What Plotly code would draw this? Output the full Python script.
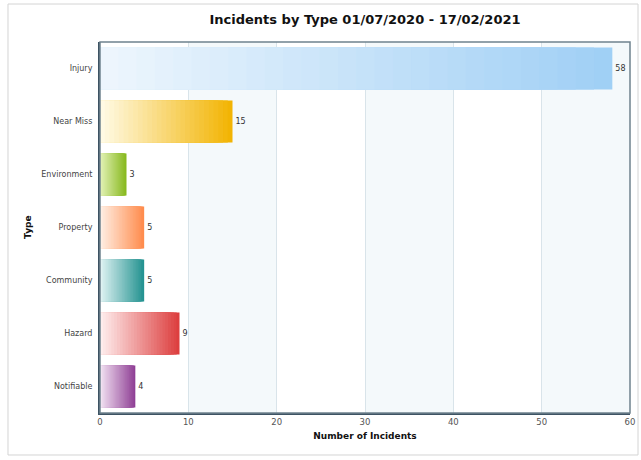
import plotly.graph_objects as go

categories = ["Injury", "Near Miss", "Environment", "Property", "Community", "Hazard", "Notifiable"]
values = [58, 15, 3, 5, 5, 9, 4]
light_colors = ["#eef6fd", "#fffbe8", "#e4f2b8", "#fff0e6", "#e2f4f4", "#fff0f0", "#f3e4f3"]
dark_colors = ["#9fcff5", "#f2b300", "#86b81c", "#ff8a4a", "#21918f", "#dc3c3c", "#8e3d94"]
x_ticks = [0, 10, 20, 30, 40, 50, 60]

def hex2rgb(h):
    h = h.lstrip("#")
    return tuple(int(h[i:i + 2], 16) for i in (0, 2, 4))

def lerp(c1, c2, f):
    a, b = hex2rgb(c1), hex2rgb(c2)
    return "rgb(%d,%d,%d)" % tuple(round(a[i] + (b[i] - a[i]) * f) for i in range(3))

N = 28
fig = go.Figure()
for k in range(N):
    frac = (N - k) / N
    f_col = (N - k - 0.5) / N
    fig.add_trace(go.Bar(
        y=categories,
        x=[v * frac for v in values],
        orientation="h",
        marker=dict(color=[lerp(l, d, f_col) for l, d in zip(light_colors, dark_colors)],
                    line=dict(width=0)),
        text=[str(v) for v in values] if k == 0 else None,
        textposition="outside" if k == 0 else "none",
        textfont=dict(family="DejaVu Sans", size=8, color="#333333"),
        cliponaxis=False,
        hoverinfo="skip",
        showlegend=False,
    ))

shapes = []
# alternating background bands
for i in range(len(x_ticks) - 1):
    if i % 2 == 1:
        shapes.append(dict(type="rect", xref="x", yref="paper", x0=x_ticks[i], x1=x_ticks[i + 1],
                           y0=0, y1=1, fillcolor="#f4f9fb", line=dict(width=0), layer="below"))
# plot border
shapes.append(dict(type="rect", xref="paper", yref="paper", x0=0, x1=1, y0=0, y1=1,
                   line=dict(color="#6f828e", width=1.5), layer="above"))
# outer frame
shapes.append(dict(type="rect", xref="paper", yref="paper", x0=-0.1736, x1=1.0151, y0=-0.1132, y1=1.1024,
                   line=dict(color="#d4d4d4", width=1), layer="below"))

fig.update_layout(
    width=641, height=460,
    margin=dict(l=100, r=11, t=42, b=47, autoexpand=False),
    paper_bgcolor="white",
    plot_bgcolor="white",
    barmode="overlay",
    bargap=0.21,
    shapes=shapes,
    title=dict(text="<b>Incidents by Type 01/07/2020 - 17/02/2021</b>", x=0.5, xref="paper",
               y=0.958, yanchor="middle",
               font=dict(family="DejaVu Sans", size=13, color="#111111")),
    xaxis=dict(range=[0, 60], tickvals=x_ticks, showgrid=True, gridcolor="#d9e4ea", gridwidth=1,
               zeroline=False, showline=True, linecolor="#3d5363", linewidth=2,
               ticks="", automargin=False,
               tickfont=dict(family="DejaVu Sans", size=8.5, color="#555555"),
               title=dict(text="<b>Number of Incidents</b>", standoff=6,
                          font=dict(family="DejaVu Sans", size=9, color="#111111"))),
    yaxis=dict(autorange="reversed", showgrid=False, showline=True, linecolor="#3d5363", linewidth=2,
               ticks="", ticklabelstandoff=4, automargin=False,
               tickfont=dict(family="DejaVu Sans", size=8, color="#444444")),
    annotations=[dict(text="<b>Type</b>", xref="paper", yref="paper", x=-0.137, y=0.5,
                      textangle=-90, showarrow=False, xanchor="center", yanchor="middle",
                      font=dict(family="DejaVu Sans", size=9, color="#111111"))],
)

fig.write_html("out.html")
